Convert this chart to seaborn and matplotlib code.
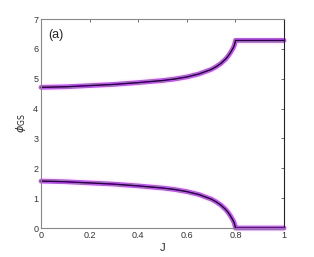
import numpy as np
import pandas as pd
import seaborn as sns
import matplotlib
matplotlib.use("Agg")
import matplotlib.pyplot as plt

# values
J = [0.0, 0.1, 0.2, 0.3, 0.4, 0.5, 0.55, 0.6, 0.65, 0.7, 0.72, 0.74, 0.76,
     0.77, 0.78, 0.79, 0.795, 0.8, 0.8, 0.9, 1.0]
phi_low = [1.571, 1.55, 1.51, 1.47, 1.41, 1.34, 1.29, 1.22, 1.12, 0.97, 0.88,
           0.77, 0.62, 0.52, 0.40, 0.26, 0.17, 0.02, 0.0, 0.0, 0.0]
phi_high = [4.712, 4.73, 4.77, 4.81, 4.87, 4.94, 4.99, 5.06, 5.16, 5.31, 5.40,
            5.51, 5.66, 5.76, 5.88, 6.02, 6.11, 6.26, 6.283, 6.283, 6.283]
xticks = [0, 0.2, 0.4, 0.6, 0.8, 1]
xticklabels = ["0", "0.2", "0.4", "0.6", "0.8", "1"]
yticks = [0, 1, 2, 3, 4, 5, 6, 7]

df_low = pd.DataFrame({"J": J, "phi": phi_low})
df_high = pd.DataFrame({"J": J, "phi": phi_high})

sns.set_style("white")
plt.rcParams["font.family"] = ["Liberation Sans", "DejaVu Sans"]

fig = plt.figure(figsize=(3.14, 2.57), dpi=100)
ax = fig.add_axes([0.1306, 0.1128, 0.7739, 0.8132])

purple = "#c64cff"
for d in (df_low, df_high):
    sns.lineplot(data=d, x="J", y="phi", ax=ax, color=purple, lw=3.5,
                 sort=False, estimator=None, clip_on=False)
    sns.lineplot(data=d, x="J", y="phi", ax=ax, color="black", lw=0.9,
                 sort=False, estimator=None, clip_on=False)

ax.set_xlim(0, 1)
ax.set_ylim(0, 7)
ax.set_xticks(xticks)
ax.set_xticklabels(xticklabels)
ax.set_yticks(yticks)
ax.tick_params(direction="in", length=2, width=0.6, colors="#555555",
               labelsize=6.5, labelcolor="#333333", top=True, right=True, pad=2)
for s in ["left", "top", "bottom"]:
    ax.spines[s].set_color("#888888")
    ax.spines[s].set_linewidth(0.8)
ax.spines["right"].set_color("#222222")
ax.spines["right"].set_linewidth(0.8)

ax.set_xlabel("J", fontsize=8, labelpad=2)
ax.set_ylabel(r"$\phi_{\rm GS}$", fontsize=8, labelpad=4)
ax.text(0.03, 0.95, "(a)", transform=ax.transAxes, fontsize=9, va="top", ha="left")

fig.savefig("out.png", dpi=100)
